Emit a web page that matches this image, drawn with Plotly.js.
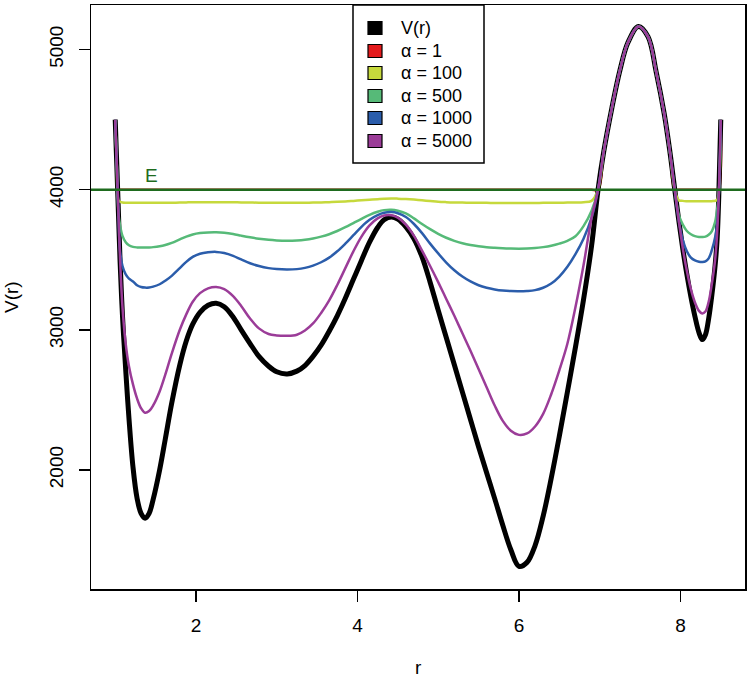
<!DOCTYPE html>
<html>
<head>
<meta charset="utf-8">
<script src="https://cdn.plot.ly/plotly-3.0.1.min.js"></script>
<style>html,body{margin:0;padding:0;background:#fff;}#chart{width:750px;height:679px;}</style>
</head>
<body>
<div id="chart"></div>
<script>
// ---- data ----
const r = [
  1.00,1.02,1.04,1.06,1.09,1.13,1.17,1.22,1.27,1.32,
  1.37,1.42,1.47,1.55,1.62,1.70,1.80,1.88,1.96,2.05,
  2.15,2.25,2.35,2.46,2.56,2.67,2.78,2.90,3.00,3.13,
  3.25,3.35,3.45,3.55,3.65,3.75,3.85,3.95,4.05,4.15,
  4.25,4.33,4.42,4.50,4.60,4.70,4.80,4.90,5.00,5.10,
  5.20,5.30,5.40,5.50,5.60,5.70,5.80,5.90,6.00,6.10,
  6.20,6.30,6.40,6.50,6.60,6.70,6.80,6.90,6.98,7.05,
  7.15,7.25,7.35,7.48,7.60,7.70,7.80,7.87,7.93,7.98,
  8.03,8.08,8.13,8.18,8.23,8.27,8.31,8.35,8.39,8.43,
  8.455,8.475,8.50];
const V = [
  4500,4170,3830,3490,3100,2712,2370,2020,1800,1690,
  1655,1690,1790,2000,2220,2477,2750,2920,3040,3125,
  3175,3190,3165,3092,3000,2902,2810,2740,2700,2685,
  2705,2745,2810,2890,2990,3100,3225,3360,3495,3625,
  3730,3785,3805,3790,3735,3650,3520,3340,3140,2945,
  2750,2555,2360,2165,1980,1795,1605,1430,1312,1340,
  1460,1670,1940,2240,2555,2875,3215,3600,4000,4270,
  4580,4850,5050,5165,5090,4840,4540,4270,4000,3780,
  3575,3395,3235,3095,2980,2930,2965,3080,3250,3460,
  3650,3950,4500];
const a1 = [
  4500,4170,3999,3999,3999,3999,3999,3999,3999,3999,
  3999,3999,3999,3999,3999,3999,3999,3999,3999,3999,
  3999,3999,3999,3999,3999,3999,3999,3999,3999,3999,
  3999,3999,3999,3999,3999,3999,3999,3999,3999,3999,
  3999,3999,3999,3999,3999,3999,3999,3999,3999,3999,
  3999,3999,3999,3999,3999,3999,3999,3999,3999,3999,
  3999,3999,3999,3999,3999,3999,3999,3999,4000,4270,
  4580,4850,5050,5165,5090,4840,4540,4270,4000,3999,
  3999,3999,3999,3999,3999,3999,3999,3999,3999,3999,
  3999,3999,4500];
const a100 = [
  4500,4170,3925,3914,3909,3907,3906,3906,3906,3906,
  3906,3906,3906,3906,3907,3907,3908,3909,3910,3910,
  3911,3911,3911,3910,3909,3908,3907,3906,3906,3906,
  3906,3907,3908,3909,3911,3913,3916,3920,3924,3928,
  3932,3935,3937,3936,3933,3929,3924,3919,3914,3911,
  3909,3908,3907,3906,3906,3905,3905,3905,3905,3905,
  3905,3906,3906,3907,3908,3909,3911,3920,4000,4270,
  4580,4850,5050,5165,5090,4840,4540,4270,4000,3925,
  3920,3918,3917,3917,3917,3917,3917,3917,3918,3920,
  3928,3985,4500];
const a500 = [
  4500,4170,3830,3745,3670,3625,3603,3592,3588,3587,
  3587,3588,3590,3596,3605,3620,3645,3665,3680,3690,
  3695,3696,3693,3684,3672,3660,3650,3642,3638,3636,
  3638,3643,3652,3665,3682,3705,3732,3762,3792,3820,
  3842,3854,3857,3850,3830,3795,3755,3718,3685,3657,
  3635,3618,3605,3596,3589,3585,3582,3580,3579,3580,
  3583,3590,3600,3615,3635,3668,3740,3850,4000,4270,
  4580,4850,5050,5165,5090,4840,4540,4270,4000,3820,
  3750,3705,3682,3668,3662,3662,3665,3678,3705,3770,
  3860,3960,4500];
const a1000 = [
  4500,4170,3830,3560,3455,3395,3365,3345,3318,3305,
  3301,3302,3308,3325,3350,3385,3440,3485,3520,3543,
  3553,3556,3548,3528,3502,3475,3455,3440,3433,3430,
  3433,3442,3458,3482,3515,3560,3615,3675,3735,3785,
  3818,3835,3840,3832,3805,3755,3690,3615,3545,3480,
  3425,3380,3345,3318,3300,3288,3280,3276,3275,3277,
  3283,3300,3330,3380,3450,3540,3650,3800,4000,4270,
  4580,4850,5050,5165,5090,4840,4540,4270,4000,3780,
  3640,3560,3515,3495,3486,3484,3488,3510,3570,3660,
  3760,3950,4500];
const a5000 = [
  4500,4170,3830,3500,3160,2900,2740,2610,2510,2440,
  2408,2420,2460,2560,2680,2830,3000,3110,3200,3262,
  3296,3306,3290,3240,3170,3080,3010,2970,2960,2957,
  2965,2995,3045,3120,3210,3320,3440,3560,3665,3745,
  3795,3815,3817,3800,3750,3670,3565,3455,3340,3220,
  3100,2975,2850,2720,2590,2460,2350,2280,2250,2260,
  2310,2400,2540,2710,2900,3160,3460,3800,4000,4270,
  4580,4850,5050,5165,5090,4840,4540,4270,4000,3780,
  3580,3420,3290,3195,3135,3116,3130,3200,3330,3500,
  3690,3960,4500];
const E = 4000;
const seriesNames = ["V(r)", "α = 1", "α = 100", "α = 500", "α = 1000", "α = 5000"];
const seriesColors = ["#000000", "#E31A1C", "#C6D93C", "#56BA78", "#2B5DAB", "#9B3C98"];
const seriesWidths = [5, 2.5, 2.5, 2.5, 2.5, 2.5];
const seriesValues = [V, a1, a100, a500, a1000, a5000];
const drawOrder = [1, 0, 2, 3, 4, 5];
const xTicks = [2, 4, 6, 8];
const yTicks = [2000, 3000, 4000, 5000];

// ---- figure ----
const FONT = "Liberation Sans, Arial, Helvetica, sans-serif";
const traces = drawOrder.map(i => ({
  x: r, y: seriesValues[i], type: "scatter", mode: "lines",
  line: {color: seriesColors[i], width: seriesWidths[i], shape: "spline", smoothing: 1},
  name: seriesNames[i], showlegend: false, hoverinfo: "skip"
}));

// plot area in px: left 91, right 745, top 5, bottom 589
const L = 91, R = 745, T = 5, B = 589;
const px = v => (v - L) / (R - L);
const py = v => (B - v) / (B - T);

const shapes = [
  {type: "line", xref: "paper", yref: "y", x0: 0, x1: 1, y0: E, y1: E,
   line: {color: "#1E6B1E", width: 2.5}, layer: "above"},
  {type: "rect", xref: "paper", yref: "paper", x0: px(353), x1: px(484), y0: py(163), y1: py(5),
   fillcolor: "#ffffff", line: {color: "#000", width: 1.5}, layer: "above"}
];
const annotations = [
  {xref: "x", yref: "y", x: 1.45, y: 4000, yshift: 14, text: "E", showarrow: false,
   font: {family: FONT, size: 19, color: "#1E6B1E"}, xanchor: "center", yanchor: "middle"},
  {xref: "paper", yref: "paper", x: 0.5, y: py(667), text: "r", showarrow: false,
   font: {family: FONT, size: 19, color: "#000"}, xanchor: "center", yanchor: "middle"},
  {xref: "paper", yref: "paper", x: px(11), y: 0.5, text: "V(r)", showarrow: false, textangle: -90,
   font: {family: FONT, size: 19, color: "#000"}, xanchor: "center", yanchor: "middle"}
];
const rowY = [28, 51, 73, 96, 118, 141];
seriesNames.forEach((nm, i) => {
  shapes.push({type: "rect", xref: "paper", yref: "paper",
    x0: px(368), x1: px(382), y0: py(rowY[i] + 6.5), y1: py(rowY[i] - 6.5),
    fillcolor: seriesColors[i], line: {color: "#000", width: 1.2}, layer: "above"});
  annotations.push({xref: "paper", yref: "paper", x: px(399), y: py(rowY[i]), text: nm,
    showarrow: false, xanchor: "left", yanchor: "middle",
    font: {family: FONT, size: 18, color: "#000"}});
});

const layout = {
  width: 750, height: 679,
  margin: {l: L, r: 750 - R, t: T, b: 679 - B},
  paper_bgcolor: "#fff", plot_bgcolor: "#fff",
  showlegend: false,
  font: {family: FONT, size: 19, color: "#000"},
  xaxis: {range: [0.7, 8.8], tickvals: xTicks, ticktext: xTicks.map(String),
    ticks: "outside", ticklen: 11, tickwidth: 1.5, tickcolor: "#000",
    showline: true, linecolor: "#000", linewidth: 1.5, mirror: true,
    showgrid: false, zeroline: false, ticklabelstandoff: 8,
    tickfont: {family: FONT, size: 19, color: "#000"}},
  yaxis: {range: [1150, 5318], tickvals: yTicks, ticktext: yTicks.map(String),
    ticks: "outside", ticklen: 11, tickwidth: 1.5, tickcolor: "#000",
    showline: true, linecolor: "#000", linewidth: 1.5, mirror: true,
    showgrid: false, zeroline: false, tickangle: -90, ticklabelstandoff: 8,
    tickfont: {family: FONT, size: 19, color: "#000"}},
  shapes: shapes,
  annotations: annotations
};
Plotly.newPlot("chart", traces, layout, {staticPlot: true, displayModeBar: false});
</script>
</body>
</html>
